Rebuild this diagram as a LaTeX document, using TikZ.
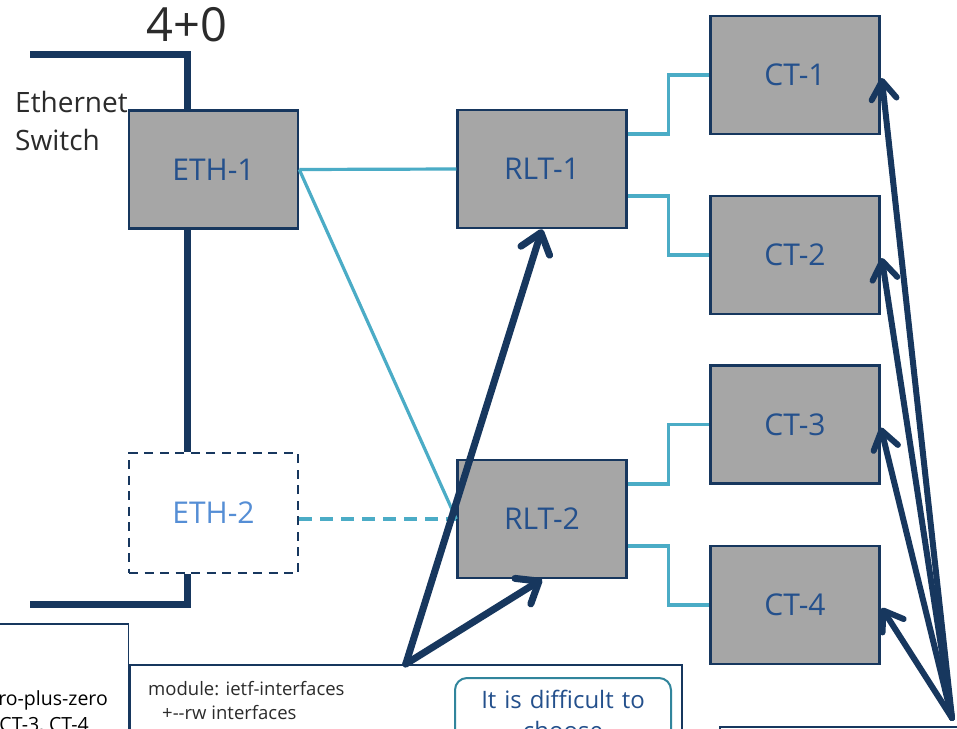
\documentclass[tikz,border=0pt]{standalone}
\usepackage{fontspec}
\setmainfont{Open Sans}
\usetikzlibrary{arrows.meta,calc}
\definecolor{dkblue}{HTML}{17375E}
\definecolor{boxfill}{HTML}{A6A6A6}
\definecolor{boxtext}{HTML}{24508C}
\definecolor{lblue}{HTML}{4BACC6}
\definecolor{ethtwo}{HTML}{558ED5}
\definecolor{tealc}{HTML}{31859C}
\definecolor{txtgray}{HTML}{2B2B2B}
\begin{document}
\begin{tikzpicture}[x=1pt,y=-1pt,
  devbox/.style={draw=dkblue, line width=2.5pt, fill=boxfill, minimum width=169pt, minimum height=118pt, inner sep=0pt, text=boxtext, font=\fontsize{30}{36}\selectfont},
  dashbox/.style={draw=dkblue, line width=2.5pt, dash pattern=on 9pt off 6.5pt, minimum width=169pt, minimum height=120pt, inner sep=0pt, text=ethtwo, font=\fontsize{30}{36}\selectfont},
  trunk/.style={draw=dkblue, line width=7pt, line join=miter},
  link/.style={draw=lblue, line width=3.2pt},
  dlink/.style={draw=lblue, line width=3.2pt, dash pattern=on 13pt off 8pt},
  arr/.style={draw=dkblue, line width=7pt, line cap=round, -{Straight Barb[length=19pt,width=30pt,line cap=round,line join=round]}},
  arrthin/.style={draw=dkblue, line width=6pt, line cap=round, -{Straight Barb[length=18pt,width=25pt,line cap=round,line join=round]}},
  framebox/.style={draw=dkblue, line width=1.5pt, inner sep=0pt},
]
\clip (0,0) rectangle (957,728);
\fill[white] (0,0) rectangle (957,728);

% bottom frames
\node[framebox, minimum width=200pt, minimum height=150pt, anchor=north east] (leftbox) at (129,623) {};
\node[framebox, minimum width=552pt, minimum height=120pt, anchor=north west] (modbox) at (129,664) {};
\node[framebox, minimum width=300pt, minimum height=100pt, anchor=north west] (rbox) at (719,726) {};
\node[draw=tealc, line width=2pt, rounded corners=12pt, text width=200pt, align=center, inner xsep=8pt, inner ysep=12pt, anchor=north, text=boxtext, font=\fontsize{24}{31}\selectfont] (note) at (563,677) {It is difficult to\\choose\\[4pt]};

\node[anchor=north west, inner sep=0pt, align=left, text=txtgray, font=\fontsize{18.5}{24}\selectfont] (modtxt) at (148,681) {module: ietf-interfaces\\\hspace*{14pt}+-{}-rw interfaces};
\node[anchor=base east, inner sep=0pt, text=black, font=\fontsize{19.5}{24}\selectfont] (zpz) at (108,705) {zero-plus-zero};
\node[anchor=base east, inner sep=0pt, text=black, font=\fontsize{19.5}{24}\selectfont] (cts) at (89,731) {CT-3, CT-4};

% labels
\node[inner sep=0pt, text=txtgray, font=\fontsize{47}{50}\selectfont] (fourzero) at (187,25) {4+0};
\node[anchor=north west, inner sep=0pt, align=left, text=txtgray, font=\fontsize{28}{38}\selectfont] (ethsw) at (15,91) {Ethernet\\Switch};

% devices
\node[devbox] (eth1) at (213.5,169.5) {ETH-1};
\node[dashbox] (eth2) at (213.5,513) {ETH-2};
\node[devbox] (rlt1) at (542,169) {RLT-1};
\node[devbox] (rlt2) at (542,519) {RLT-2};
\node[devbox] (ct1) at (795,75) {CT-1};
\node[devbox] (ct2) at (795,255) {CT-2};
\node[devbox] (ct3) at (795,424.5) {CT-3};
\node[devbox] (ct4) at (795,605) {CT-4};

% switch trunk
\coordinate (tl) at (30,54);
\coordinate (tj) at (187,54);
\coordinate (bl) at (30,604);
\draw[trunk] (tl) -- (tj) -- (tj |- eth1.north);
\draw[trunk] (tj |- eth1.south) -- (tj |- eth2.north);
\draw[trunk] (tj |- eth2.south) |- (bl);

% links
\draw[link] (eth1.east) -- (rlt1.west);
\draw[link] (eth1.east) -- (rlt2.west);
\draw[dlink] (eth2.east |- rlt2.west) -- (rlt2.west);
\draw[link] ($(rlt1.east)+(0,-35)$) -- ++(41,0) |- (ct1.west);
\draw[link] ($(rlt1.east)+(0,27)$) -- ++(41,0) |- (ct2.west);
\draw[link] ($(rlt2.east)+(0,-35)$) -- ++(41,0) |- (ct3.west);
\draw[link] ($(rlt2.east)+(0,27)$) -- ++(41,0) |- (ct4.west);

% arrows
\draw[arr] (modbox.north) -- (rlt1.south);
\draw[arr] (modbox.north) -- (rlt2.south);
\coordinate (br) at (952,718);
\draw[arrthin] (br) -- ($(ct1.east)+(1,3)$);
\draw[arrthin] (br) -- ($(ct2.east)+(1,3)$);
\draw[arrthin] (br) -- ($(ct3.east)+(0,3)$);
\draw[arrthin] (br) -- ($(ct4.east)+(1,3)$);
\end{tikzpicture}
\end{document}
